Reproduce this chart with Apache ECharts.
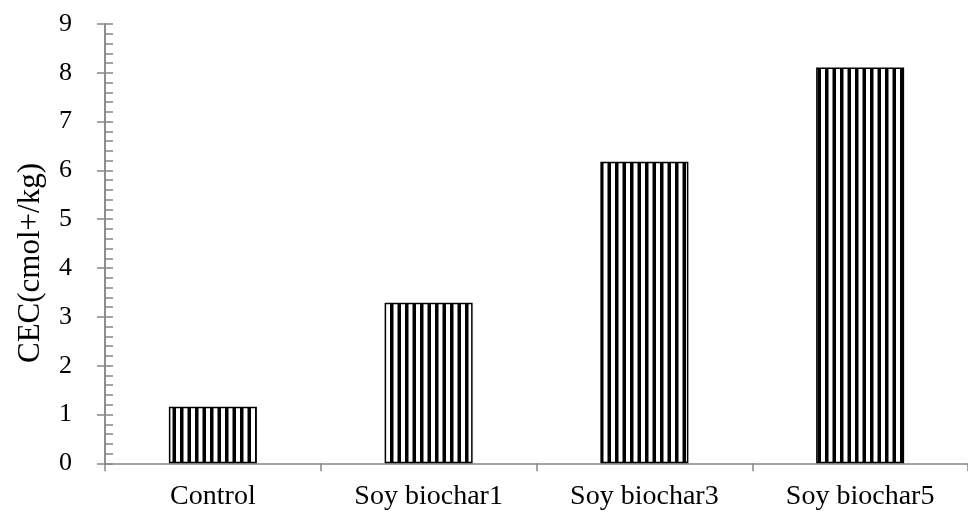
<!DOCTYPE html>
<html>
<head>
<meta charset="utf-8">
<script src="https://cdn.jsdelivr.net/npm/echarts@6/dist/echarts.min.js"></script>
<style>
html,body{margin:0;padding:0;background:#fff;}
#chart{width:968px;height:515px;}
</style>
</head>
<body>
<div id="chart"></div>
<script>
var categories = ['Control', 'Soy biochar1', 'Soy biochar3', 'Soy biochar5'];
var cecValues = [1.16, 3.29, 6.18, 8.11];
var yTitle = 'CEC(cmol+/kg)';

var FONT = '"Liberation Serif", "Times New Roman", serif';
var AXIS_COLOR = '#878787';

// vertical stripe pattern
var pc = document.createElement('canvas');
pc.width = 15; pc.height = 10;
var ctx = pc.getContext('2d');
ctx.fillStyle = '#fff';
ctx.fillRect(0, 0, 15, 10);
ctx.fillStyle = '#000';
ctx.fillRect(0, 0, 3.5, 10);
ctx.fillRect(7.5, 0, 3.5, 10);

var chart = echarts.init(document.getElementById('chart'), null, {renderer: 'canvas'});
chart.setOption({
  animation: false,
  backgroundColor: '#fff',
  grid: {left: 105, top: 24, width: 868, height: 439.3, containLabel: false},
  xAxis: {
    type: 'category',
    data: categories,
    axisLine: {lineStyle: {color: AXIS_COLOR, width: 1.5}},
    axisTick: {show: true, length: 8, lineStyle: {color: AXIS_COLOR, width: 1.5}},
    axisLabel: {color: '#000', fontFamily: FONT, fontSize: 28, margin: 19}
  },
  yAxis: [
    {
      type: 'value', min: 0, max: 9, interval: 1,
      axisLine: {show: true, lineStyle: {color: AXIS_COLOR, width: 1.5}},
      axisTick: {show: true, length: 8, lineStyle: {color: AXIS_COLOR, width: 1.5}},
      splitLine: {show: false},
      axisLabel: {color: '#000', fontFamily: FONT, fontSize: 26, margin: 33}
    },
    {
      type: 'value', min: 0, max: 9, interval: 1, position: 'left',
      axisLine: {show: true, lineStyle: {color: AXIS_COLOR, width: 1.5}},
      axisTick: {show: true, inside: true, length: 8, lineStyle: {color: AXIS_COLOR, width: 1.5}},
      minorTick: {show: true, splitNumber: 5, length: 8, lineStyle: {color: AXIS_COLOR, width: 1.5}},
      splitLine: {show: false},
      axisLabel: {show: false}
    }
  ],
  graphic: [{
    type: 'text',
    x: 31, y: 263,
    rotation: Math.PI / 2,
    style: {
      text: yTitle,
      fill: '#000',
      font: '31px ' + FONT,
      textAlign: 'center',
      textVerticalAlign: 'middle'
    }
  }],
  series: [{
    type: 'bar',
    yAxisIndex: 0,
    data: cecValues,
    barWidth: 88,
    itemStyle: {
      color: {image: pc, repeat: 'repeat'},
      borderColor: '#000',
      borderWidth: 1.5
    }
  }]
});
</script>
</body>
</html>
